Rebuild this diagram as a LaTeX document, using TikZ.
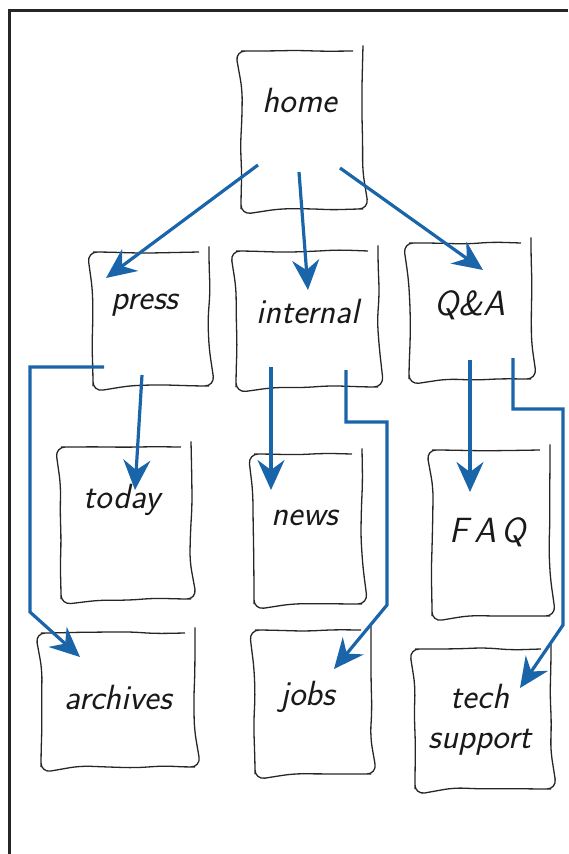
\documentclass[tikz,border=0pt]{standalone}
\usepackage{amsmath}
\usetikzlibrary{arrows.meta, calc, decorations.pathmorphing}

\begin{document}
\begin{tikzpicture}[x=1pt, y=-1pt,
	card/.style={draw=black!85, line width=1.3pt, inner sep=0pt,
		decorate, decoration={random steps, segment length=28pt, amplitude=1.3pt},
		rounded corners=10pt},
	word/.style={font=\fontsize{35}{40}\selectfont\sffamily\itshape, text=black!90, align=center},
	link/.style={draw={rgb,255:red,26;green,100;blue,170}, line width=3.2pt,
		-{Stealth[length=30pt, width=27pt, inset=10pt]}}]
\pgfmathsetseed{7}
\useasboundingbox (0,0) rectangle (568,854);
\draw[line width=3pt, black!85] (9,854) -- (9,10) -- (568,10);
% pages
\node[card, minimum width=122pt, minimum height=158pt] (home) at (302,130) {};
\node[card, minimum width=116pt, minimum height=134pt] (press) at (151,319) {};
\node[card, minimum width=142pt, minimum height=136pt] (internal) at (307,319) {};
\node[card, minimum width=122pt, minimum height=136pt] (qa) at (470,311) {};
\node[card, minimum width=130pt, minimum height=152pt] (today) at (126,523) {};
\node[card, minimum width=108pt, minimum height=150pt] (news) at (308,529) {};
\node[card, minimum width=118pt, minimum height=166pt] (faq) at (491,533) {};
\node[card, minimum width=154pt, minimum height=134pt] (archives) at (118,700) {};
\node[card, minimum width=116pt, minimum height=144pt] (jobs) at (313,702) {};
\node[card, minimum width=136pt, minimum height=140pt] (tech) at (483,719) {};
% page titles
\node[word] (home-t) at (300,100) {home};
\node[word] (press-t) at (145,305) {press};
\node[word] (internal-t) at (308,311) {internal};
\node[word] (qa-t) at (470,305) {Q\&A};
\node[word] (today-t) at (122,500) {today};
\node[word] (news-t) at (305,518) {news};
\node[word] (faq-t) at (488,532) {F\,A\,Q};
\node[word] (archives-t) at (118,697) {archives};
\node[word] (jobs-t) at (308,697) {jobs};
\node[word] (tech-t) at (480,720) {tech\\support};
% links
\draw[link] ([shift={(-44,35)}]home.center) -- ([shift={(-45,-41)}]press.center);
\draw[link] ([shift={(-3,42)}]home.center) -- ([shift={(1,-29)}]internal.center);
\draw[link] ([shift={(38,38)}]home.center) -- ([shift={(13,-41)}]qa.center);
\draw[link] ([shift={(-9,56)}]press.center) -- ([shift={(9,-33)}]today.center);
\draw[link] ([shift={(-47,48)}]press.center) -- ++(-74,0) -- ++(0,245) -- ([shift={(-38,-43)}]archives.center);
\draw[link] ([shift={(-36,48)}]internal.center) -- ([shift={(-37,-39)}]news.center);
\draw[link] ([shift={(39,51)}]internal.center) -- ++(0,52) -- ++(41,0) -- ++(0,183) -- ([shift={(21,-33)}]jobs.center);
\draw[link] ([shift={(0,49)}]qa.center) -- ([shift={(-21,-41)}]faq.center);
\draw[link] ([shift={(43,47)}]qa.center) -- ++(0,51) -- ++(50,0) -- ++(0,216) -- ([shift={(37,-31)}]tech.center);
\end{tikzpicture}
\end{document}
